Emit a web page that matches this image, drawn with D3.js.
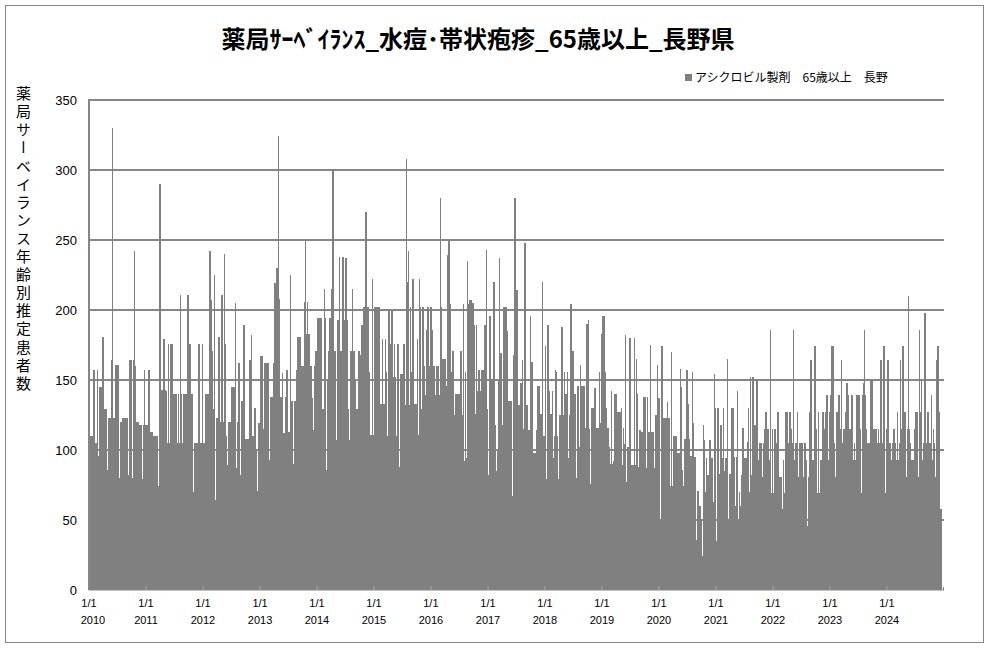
<!DOCTYPE html>
<html>
<head>
<meta charset="utf-8">
<script src="https://cdn.jsdelivr.net/npm/d3@7"></script>
<style>
  body { margin: 0; background: #fff; }
  #chart { position: relative; width: 987px; height: 648px; }
  text { font-family: "Liberation Sans", Arial, sans-serif; }
  .jp { font-family: "Noto Sans CJK JP", sans-serif; }
  .ytitle {
    position: absolute;
    left: 15px;
    top: 86px;
    font-family: "Noto Sans CJK JP", sans-serif;
    font-size: 15px;
    line-height: 16px;
    letter-spacing: 3.1px;
    writing-mode: vertical-rl;
    color: #000;
  }
</style>
</head>
<body>
<div id="chart"></div>
<script>
// weekly values (52 weeks per year, last week runs to year end)
const w2010 = [110,110,110,56,157,105,105,157,96,145,145,145,181,129,129,129,86,123,123,123,164,330,123,123,161,80,161,80,120,120,123,123,123,123,123,82,80,164,164,80,164,242,160,120,120,118,118,118,79,118,157,118];
const w2011 = [118,118,157,79,113,113,110,110,110,110,110,74,290,107,143,107,179,143,142,105,176,105,176,176,105,140,70,140,105,140,105,211,140,105,140,140,140,140,211,176,176,140,140,70,105,105,105,36,176,105,105,176];
const w2012 = [105,105,140,105,140,105,242,207,171,129,225,64,123,96,181,90,120,211,120,240,176,110,89,120,120,60,145,145,145,205,87,120,162,162,82,135,135,189,108,108,108,108,164,164,182,110,79,130,100,71,119,119];
const w2013 = [167,167,115,115,162,162,162,162,93,138,138,138,162,219,219,230,324,208,138,138,155,112,112,138,157,113,113,225,135,135,90,135,135,157,181,157,181,160,160,160,206,250,183,206,183,160,160,137,114,160,171,171];
const w2014 = [194,194,194,194,86,129,215,194,86,150,171,194,194,215,301,129,171,107,193,193,238,171,171,238,129,193,237,193,129,107,171,171,215,171,150,86,129,129,171,168,189,189,202,202,270,181,202,156,111,111,222,111];
const w2015 = [202,202,133,202,202,133,133,179,133,133,179,156,110,199,176,176,199,152,176,152,110,176,176,88,154,154,154,176,132,308,220,242,132,202,156,222,111,133,133,179,111,222,202,129,202,160,139,139,186,202,160,202];
const w2016 = [202,186,160,100,139,160,160,139,280,202,165,165,165,129,146,239,249,204,156,171,171,125,140,140,110,140,140,171,125,204,92,156,94,235,204,207,207,205,205,189,126,189,142,157,157,142,157,157,111,189,243,129];
const w2017 = [82,196,151,151,118,220,118,85,101,151,237,169,101,118,202,187,202,185,135,135,135,135,67,168,280,149,214,132,132,148,148,164,115,248,132,132,114,114,196,163,163,98,98,98,114,146,146,126,126,220,110,110];
const w2018 = [174,79,189,142,79,126,142,94,110,157,156,110,79,125,94,188,125,156,140,140,156,94,125,204,118,171,118,140,80,146,146,102,161,146,146,146,116,116,190,193,115,76,130,130,130,144,104,116,116,156,119,183];
const w2019 = [196,196,156,130,116,116,102,90,142,90,92,140,140,83,127,127,127,130,89,116,104,182,77,102,77,180,89,89,89,180,89,165,140,88,114,113,75,113,138,138,87,138,113,113,175,113,113,62,87,125,161,137];
const w2020 = [137,51,174,98,123,123,123,134,123,123,74,170,74,110,98,110,98,98,98,158,145,86,74,108,96,157,133,108,96,96,156,119,95,95,36,71,24,60,49,24,118,107,70,94,82,82,107,60,94,63,154,130];
const w2021 = [35,130,83,60,118,94,130,85,94,94,165,50,83,83,130,130,95,60,95,142,49,70,60,82,116,94,94,94,106,130,70,152,82,152,70,118,115,150,93,105,105,105,81,105,115,127,115,115,93,186,69,115];
const w2022 = [69,115,105,58,127,81,81,81,58,93,69,127,127,81,105,127,115,105,186,93,105,105,127,81,105,81,105,81,105,105,93,46,81,127,164,93,69,93,174,115,69,127,69,93,93,127,115,93,127,139,93,127];
const w2023 = [139,174,174,105,69,81,127,139,139,115,164,105,115,105,127,148,139,115,115,139,139,93,105,93,139,105,139,115,69,139,148,186,139,115,105,93,105,150,150,115,115,115,115,105,115,105,164,105,105,174,69,115];
const w2024 = [164,164,105,93,93,105,115,105,93,127,93,105,164,115,174,93,127,81,115,210,115,105,93,93,93,115,127,127,81,186,127,150,93,105,198,105,93,127,105,105,139,93,115,105,81,164,174,127,58,58,0,2];

const years = [2010,2011,2012,2013,2014,2015,2016,2017,2018,2019,2020,2021,2022,2023,2024];
const yearly = [w2010,w2011,w2012,w2013,w2014,w2015,w2016,w2017,w2018,w2019,w2020,w2021,w2022,w2023,w2024];
const yTicks = [0,50,100,150,200,250,300,350];

const title = "薬局ｻｰﾍﾞｲﾗﾝｽ_水痘･帯状疱疹_65歳以上_長野県";
const seriesName = "アシクロビル製剤　65歳以上　長野";
const yTitle = "薬局サーベイランス年齢別推定患者数";

const width = 987, height = 648;
const plot = { left: 89, right: 944, top: 100, bottom: 590 };

const svg = d3.select("#chart")
  .append("svg")
  .attr("width", width)
  .attr("height", height);

svg.append("rect")
  .attr("x", 5.5).attr("y", 5.5)
  .attr("width", 978).attr("height", 637)
  .attr("fill", "#fff")
  .attr("stroke", "#868686");

// one row per week
const data = [];
years.forEach((yr, k) => {
  yearly[k].forEach((v, i) => {
    const start = new Date(yr, 0, 1 + 7 * i);
    const end = i === 51 ? new Date(yr + 1, 0, 1) : new Date(yr, 0, 1 + 7 * (i + 1));
    data.push({ start, end, value: v });
  });
});

const x = d3.scaleTime()
  .domain([new Date(2010, 0, 1), new Date(2025, 0, 1)])
  .range([plot.left, plot.right]);

const y = d3.scaleLinear()
  .domain([0, 350])
  .range([plot.bottom, plot.top]);

// gridlines
svg.append("g")
  .selectAll("line")
  .data(yTicks.filter(d => d > 0))
  .join("line")
  .attr("x1", plot.left)
  .attr("x2", plot.right)
  .attr("y1", d => y(d))
  .attr("y2", d => y(d))
  .attr("stroke", "#868686")
  .attr("stroke-width", 2);

// bars
svg.append("g")
  .attr("shape-rendering", "crispEdges")
  .selectAll("rect")
  .data(data)
  .join("rect")
  .attr("x", d => x(d.start))
  .attr("width", d => x(d.end) - x(d.start) + 0.4)
  .attr("y", d => y(d.value))
  .attr("height", d => y(0) - y(d.value))
  .attr("fill", "#808080");

// axis lines
svg.append("line")
  .attr("x1", plot.left).attr("x2", plot.left)
  .attr("y1", plot.top - 1).attr("y2", plot.bottom)
  .attr("stroke", "#868686").attr("stroke-width", 2);

svg.append("line")
  .attr("x1", plot.left).attr("x2", plot.right)
  .attr("y1", plot.bottom).attr("y2", plot.bottom)
  .attr("stroke", "#868686").attr("stroke-width", 1);

// y tick labels
svg.append("g")
  .selectAll("text")
  .data(yTicks)
  .join("text")
  .attr("x", 77)
  .attr("y", d => y(d) + 5)
  .attr("text-anchor", "end")
  .style("font-size", "13px")
  .text(d => d);

// x ticks + two-line labels
const yearStarts = years.map(yr => new Date(yr, 0, 1));

svg.append("g")
  .selectAll("line")
  .data(yearStarts.slice(1))
  .join("line")
  .attr("x1", d => x(d)).attr("x2", d => x(d))
  .attr("y1", plot.bottom - 4).attr("y2", plot.bottom)
  .attr("stroke", "#a6a6a6");

const xl = svg.append("g");
xl.selectAll(".md")
  .data(yearStarts)
  .join("text")
  .attr("class", "md")
  .attr("x", d => x(d))
  .attr("y", 607)
  .attr("text-anchor", "middle")
  .style("font-size", "11px")
  .text("1/1");

xl.selectAll(".yr")
  .data(yearStarts)
  .join("text")
  .attr("class", "yr")
  .attr("x", (d, i) => x(d) + (i === 0 ? 4 : 0))
  .attr("y", 624)
  .attr("text-anchor", "middle")
  .style("font-size", "11px")
  .text(d => d.getFullYear());

// title
svg.append("text")
  .attr("class", "jp")
  .attr("x", 478)
  .attr("y", 48)
  .attr("text-anchor", "middle")
  .style("font-size", "24px")
  .style("font-weight", "bold")
  .text(title);

// legend
svg.append("rect")
  .attr("x", 685).attr("y", 74)
  .attr("width", 7).attr("height", 7)
  .attr("fill", "#808080");

svg.append("text")
  .attr("class", "jp")
  .attr("x", 695)
  .attr("y", 82)
  .style("font-size", "12px")
  .text(seriesName);

// vertical y-axis title (HTML vertical writing so the long-vowel mark turns)
d3.select("#chart")
  .append("div")
  .attr("class", "ytitle")
  .text(yTitle);
</script>
</body>
</html>
